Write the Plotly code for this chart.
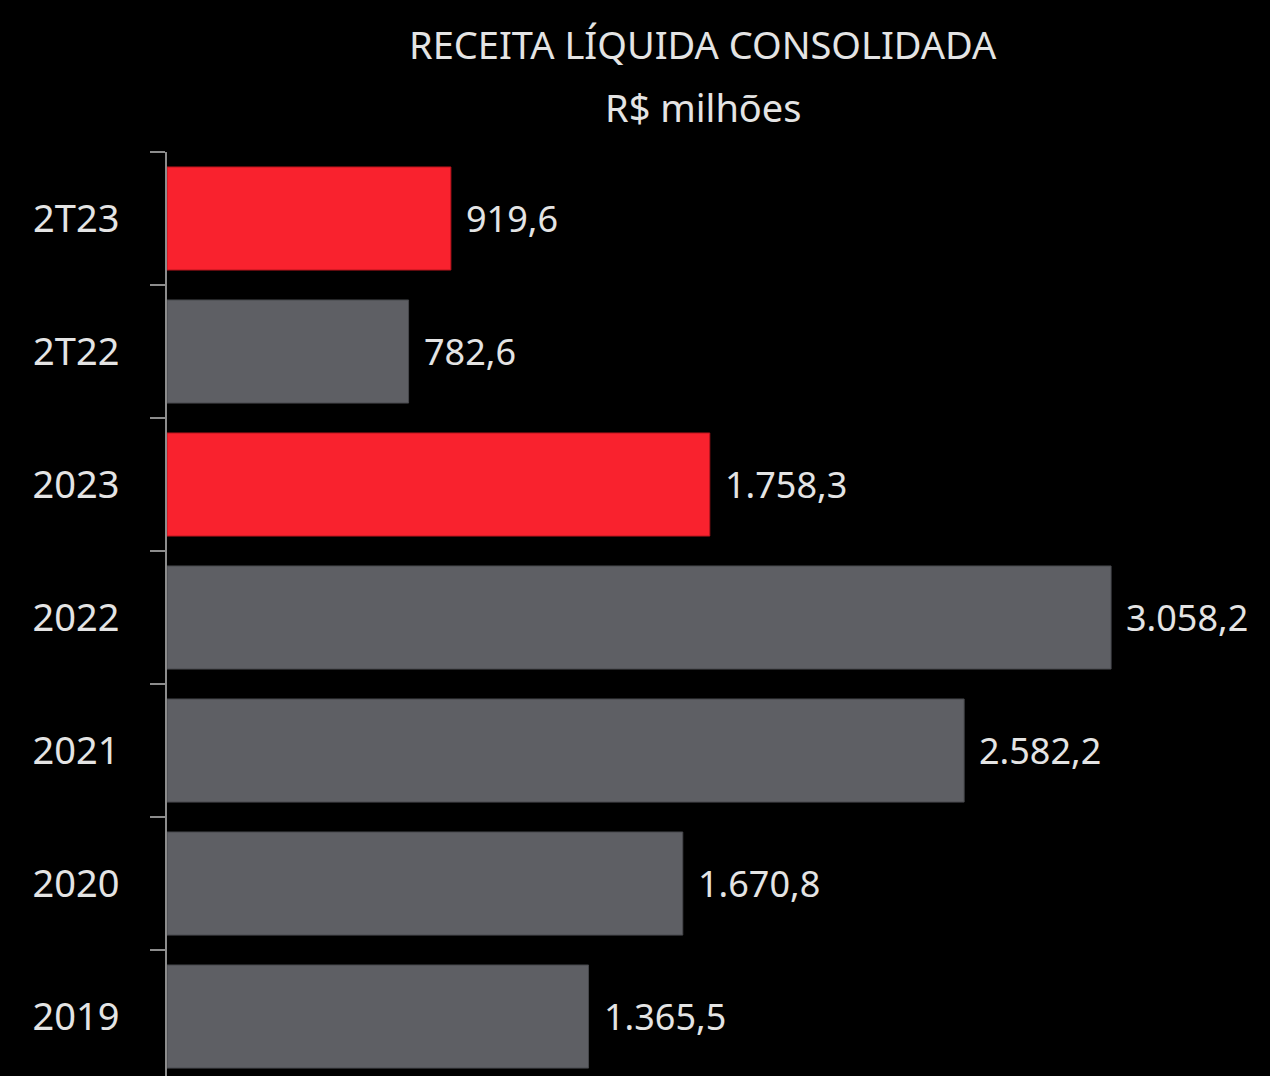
import plotly.graph_objects as go

categories = ["2T23", "2T22", "2023", "2022", "2021", "2020", "2019"]
values = [919.6, 782.6, 1758.3, 3058.2, 2582.2, 1670.8, 1365.5]
highlight = [True, False, True, False, False, False, False]

RED = "#F9222E"
GRAY = "#5E5F64"
TXT = "#E4E4E4"
FONT = "Noto Sans"

colors = [RED if h else GRAY for h in highlight]
line_colors = ["#B5141C" if h else "#47484C" for h in highlight]

fig = go.Figure()
fig.add_trace(go.Bar(
    y=categories, x=values, orientation="h",
    marker=dict(color=colors, line=dict(color=line_colors, width=1)),
    width=0.775,
    hoverinfo="skip",
))

for i, v in enumerate(values):
    fig.add_annotation(
        x=v, y=i, xref="x", yref="y",
        text=f"{v:,.1f}".replace(",", "X").replace(".", ",").replace("X", "."),
        showarrow=False, xanchor="left", yanchor="middle", xshift=13,
        font=dict(family=FONT, size=36, color=TXT),
    )

fig.add_annotation(x=0.486, y=1.117, xref="paper", yref="paper",
                   text="RECEITA LÍQUIDA CONSOLIDADA", showarrow=False,
                   xanchor="center", yanchor="middle",
                   font=dict(family=FONT, size=38, color=TXT))
fig.add_annotation(x=0.486, y=1.049, xref="paper", yref="paper",
                   text="R$ milhões", showarrow=False,
                   xanchor="center", yanchor="middle",
                   font=dict(family=FONT, size=38, color=TXT))

fig.update_layout(
    width=1270, height=1076,
    paper_bgcolor="#000000", plot_bgcolor="#000000",
    margin=dict(l=167, r=0, t=152, b=0),
    showlegend=False,
    separators=",.",
    xaxis=dict(range=[0, 3573], visible=False, showgrid=False, zeroline=False),
    yaxis=dict(
        type="category",
        categoryorder="array", categoryarray=categories,
        range=[6.447, -0.5], autorange=False,
        showline=True, linecolor="#8C8C8C", linewidth=2,
        ticks="outside", tickson="boundaries", ticklen=15, tickcolor="#8C8C8C", tickwidth=2,
        ticklabelstandoff=38,
        showgrid=False, zeroline=False,
        tickfont=dict(family=FONT, size=38, color=TXT),
    ),
)

fig.write_html(
    "out.html",
    config={"displayModeBar": False},
    post_script="document.body.style.margin='0';document.body.style.overflow='hidden';document.body.style.background='#000';",
)
